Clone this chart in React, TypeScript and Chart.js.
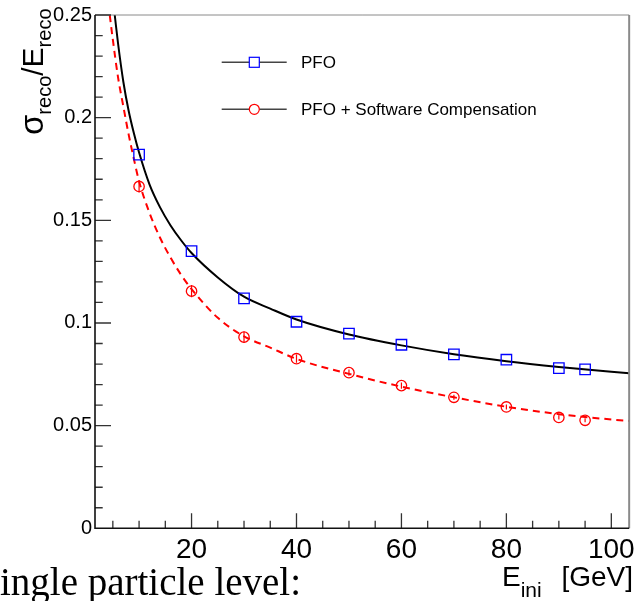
import React, { useEffect, useRef } from "react";
import { Chart, registerables } from "chart.js";

Chart.register(...registerables);

// ---- Data ----
const energies = [10, 20, 30, 40, 50, 60, 70, 80, 90, 95];
const pfoRes = [0.182, 0.135, 0.112, 0.1006, 0.0948, 0.0894, 0.0847, 0.0821, 0.078, 0.0774];
const pfoScRes = [0.1665, 0.1155, 0.0931, 0.0826, 0.0758, 0.0695, 0.0638, 0.0591, 0.054, 0.0526];
const pfoScErr = [0.003, 0.003, 0.0027, 0.002, 0.0015, 0.0015, 0.0012, 0.0012, 0.001, 0.001];

// fit curves
const pfoFitE = [5.36, 6, 7, 8, 9, 10, 12, 14, 16, 18, 20, 25, 30, 35, 40, 50, 60, 70, 80, 90, 100, 103.4];
const pfoFitRes = [0.25, 0.236, 0.2175, 0.2035, 0.1925, 0.183, 0.1674, 0.1563, 0.1475, 0.1403, 0.1341, 0.1222, 0.1128, 0.107, 0.1017, 0.0944, 0.0891, 0.0848, 0.0814, 0.0786, 0.0762, 0.0755];
const scFitE = [4.41, 5, 6, 7, 8, 9, 10, 12, 14, 16, 18, 20, 25, 30, 35, 40, 50, 60, 70, 80, 90, 100, 103.4];
const scFitRes = [0.25, 0.238, 0.2195, 0.2055, 0.192, 0.18, 0.169, 0.1535, 0.1415, 0.1318, 0.1235, 0.1165, 0.1025, 0.0935, 0.088, 0.0825, 0.0752, 0.069, 0.0638, 0.0592, 0.0556, 0.053, 0.0523];

const xTickValues = [20, 40, 60, 80, 100];
const xTickLabels = ["20", "40", "60", "80", "100"];
const yTickValues = [0, 0.05, 0.1, 0.15, 0.2, 0.25];
const yTickLabels = ["0", "0.05", "0.1", "0.15", "0.2", "0.25"];
const xMinorStep = 5;
const yMinorStep = 0.01;
const legendLabels = ["PFO", "PFO + Software Compensation"];
const pageText = "ingle particle level:";

const SANS = "'Liberation Sans', Arial, Helvetica, sans-serif";
const SERIF = "'Liberation Serif', 'Times New Roman', serif";

type Part = { t: string; size: number; dy: number };

function drawParts(ctx: CanvasRenderingContext2D, parts: Part[], x: number, y: number) {
  let cx = x;
  ctx.textBaseline = "alphabetic";
  ctx.textAlign = "left";
  for (const p of parts) {
    ctx.font = `${p.size}px ${SANS}`;
    ctx.fillText(p.t, cx, y + p.dy);
    cx += ctx.measureText(p.t).width;
  }
  return cx;
}

const errorBarPlugin = {
  id: "errbars",
  beforeDatasetsDraw(chart: any) {
    const { ctx, scales } = chart;
    const xs = scales.x;
    const ys = scales.y;
    ctx.save();
    ctx.strokeStyle = "#ff0000";
    ctx.lineWidth = 1.2;
    ctx.beginPath();
    energies.forEach((e, i) => {
      const px = xs.getPixelForValue(e);
      ctx.moveTo(px, ys.getPixelForValue(pfoScRes[i] - pfoScErr[i]));
      ctx.lineTo(px, ys.getPixelForValue(pfoScRes[i] + pfoScErr[i]));
    });
    ctx.stroke();
    ctx.restore();
  },
};

const decorPlugin = {
  id: "decor",
  afterDatasetsDraw(chart: any) {
    const { ctx, chartArea: a, scales } = chart;
    const xs = scales.x;
    const ys = scales.y;
    ctx.save();

    // frame: top & right grey
    ctx.strokeStyle = "#8a8a8a";
    ctx.lineWidth = 1;
    ctx.beginPath();
    ctx.moveTo(a.left, a.top);
    ctx.lineTo(a.right, a.top);
    ctx.stroke();
    ctx.lineWidth = 2;
    ctx.beginPath();
    ctx.moveTo(a.right, a.top);
    ctx.lineTo(a.right, a.bottom);
    ctx.stroke();

    // ticks (inside)
    ctx.strokeStyle = "#333";
    ctx.lineWidth = 1.3;
    ctx.beginPath();
    for (let v = xMinorStep; v <= xs.max; v += xMinorStep) {
      const px = xs.getPixelForValue(v);
      const major = xTickValues.some((t) => Math.abs(t - v) < 1e-6);
      ctx.moveTo(px, a.bottom);
      ctx.lineTo(px, a.bottom - (major ? 15 : 7.5));
    }
    for (let i = 1; i * yMinorStep < ys.max + 1e-9; i++) {
      const v = i * yMinorStep;
      const py = ys.getPixelForValue(v);
      const major = yTickValues.some((t) => Math.abs(t - v) < 1e-6);
      ctx.moveTo(a.left, py);
      ctx.lineTo(a.left + (major ? 16 : 7.7), py);
    }
    ctx.stroke();

    // left & bottom axis lines
    ctx.strokeStyle = "#111";
    ctx.lineWidth = 1.6;
    ctx.beginPath();
    ctx.moveTo(a.left, a.top);
    ctx.lineTo(a.left, a.bottom);
    ctx.lineTo(a.right, a.bottom);
    ctx.stroke();

    // legend
    const legRows = [62.3, 109.3];
    legRows.forEach((ly, i) => {
      ctx.strokeStyle = "#444";
      ctx.lineWidth = 1.5;
      ctx.beginPath();
      ctx.moveTo(221.7, ly);
      ctx.lineTo(286.7, ly);
      ctx.stroke();
      ctx.lineWidth = 1.2;
      if (i === 0) {
        ctx.strokeStyle = "#0000ff";
        ctx.fillStyle = "#fff";
        ctx.fillRect(249.3, ly - 5, 10, 10);
        ctx.strokeRect(249.3, ly - 5, 10, 10);
      } else {
        ctx.strokeStyle = "#ff0000";
        ctx.fillStyle = "#fff";
        ctx.beginPath();
        ctx.arc(254.3, ly, 5, 0, Math.PI * 2);
        ctx.fill();
        ctx.stroke();
      }
      ctx.fillStyle = "#000";
      ctx.font = `17px ${SANS}`;
      ctx.textBaseline = "alphabetic";
      ctx.textAlign = "left";
      ctx.fillText(legendLabels[i], 301, ly + 6);
    });

    // y axis title: sigma_reco / E_reco (rotated)
    ctx.fillStyle = "#000";
    const yParts: Part[] = [
      { t: "σ", size: 33, dy: 0 },
      { t: "reco", size: 20, dy: 8 },
      { t: "/", size: 30, dy: 0 },
      { t: "E", size: 30, dy: 0 },
      { t: "reco", size: 20, dy: 8 },
    ];
    ctx.save();
    ctx.translate(43, 135);
    ctx.rotate(-Math.PI / 2);
    drawParts(ctx, yParts, 0, 0);
    ctx.restore();

    // x axis title: E_ini [GeV]
    const endSub = drawParts(
      ctx,
      [
        { t: "E", size: 28, dy: 0 },
        { t: "ini", size: 21, dy: 11 },
      ],
      502,
      586
    );
    ctx.font = `28px ${SANS}`;
    const gw = ctx.measureText("[GeV]").width;
    ctx.fillText("[GeV]", Math.max(endSub + 6, 633 - gw), 586);

    // document text below the figure
    ctx.font = `39px ${SERIF}`;
    ctx.textBaseline = "alphabetic";
    ctx.textAlign = "left";
    ctx.fillText(pageText, 0, 595);

    ctx.restore();
  },
};

export default function App() {
  const canvasRef = useRef<HTMLCanvasElement | null>(null);

  useEffect(() => {
    const canvas = canvasRef.current;
    if (!canvas) return;
    const chart = new Chart(canvas, {
      type: "scatter",
      data: {
        datasets: [
          {
            label: "PFO fit",
            data: pfoFitE.map((e, i) => ({ x: e, y: pfoFitRes[i] })),
            showLine: true,
            borderColor: "#000",
            borderWidth: 2,
            pointRadius: 0,
            cubicInterpolationMode: "monotone",
            order: 3,
          },
          {
            label: "PFO + SC fit",
            data: scFitE.map((e, i) => ({ x: e, y: scFitRes[i] })),
            showLine: true,
            borderColor: "#ff0000",
            borderWidth: 2,
            borderDash: [7, 5],
            pointRadius: 0,
            cubicInterpolationMode: "monotone",
            order: 4,
          },
          {
            label: legendLabels[0],
            data: energies.map((e, i) => ({ x: e, y: pfoRes[i] })),
            showLine: false,
            pointStyle: "rect",
            pointRadius: 7.4,
            borderColor: "#0000ff",
            backgroundColor: "rgba(0,0,0,0)",
            borderWidth: 1.3,
            order: 1,
          },
          {
            label: legendLabels[1],
            data: energies.map((e, i) => ({ x: e, y: pfoScRes[i] })),
            showLine: false,
            pointStyle: "circle",
            pointRadius: 5.2,
            borderColor: "#ff0000",
            backgroundColor: "rgba(0,0,0,0)",
            borderWidth: 1.3,
            order: 2,
          },
        ] as any,
      },
      options: {
        animation: false,
        responsive: false,
        maintainAspectRatio: false,
        layout: { padding: { top: 14.3, right: 9.5, left: 0, bottom: 0 } },
        plugins: {
          legend: { display: false },
          tooltip: { enabled: false },
        },
        scales: {
          x: {
            type: "linear",
            min: 1.6,
            max: 103.4,
            afterBuildTicks: (s: any) => {
              s.ticks = xTickValues.map((v) => ({ value: v }));
            },
            afterFit: (s: any) => {
              s.height = 72.7;
            },
            ticks: {
              callback: (_v: any, i: number) => xTickLabels[i],
              font: { family: SANS, size: 28 },
              color: "#000",
              padding: 5,
              maxRotation: 0,
              autoSkip: false,
            },
            grid: { display: false, drawTicks: false },
            border: { display: false },
          },
          y: {
            type: "linear",
            min: 0,
            max: 0.25,
            afterBuildTicks: (s: any) => {
              s.ticks = yTickValues.map((v) => ({ value: v }));
            },
            afterFit: (s: any) => {
              s.width = 95;
            },
            ticks: {
              callback: (_v: any, i: number) => yTickLabels[i],
              font: { family: SANS, size: 20 },
              color: "#000",
              padding: 3,
              autoSkip: false,
            },
            grid: { display: false, drawTicks: false },
            border: { display: false },
          },
        },
      },
      plugins: [errorBarPlugin, decorPlugin],
    });
    return () => chart.destroy();
  }, []);

  return (
    <div style={{ position: "fixed", left: 0, top: 0, width: 640, height: 601, background: "#fff" }}>
      <canvas ref={canvasRef} width={640} height={601} style={{ display: "block" }} />
    </div>
  );
}
